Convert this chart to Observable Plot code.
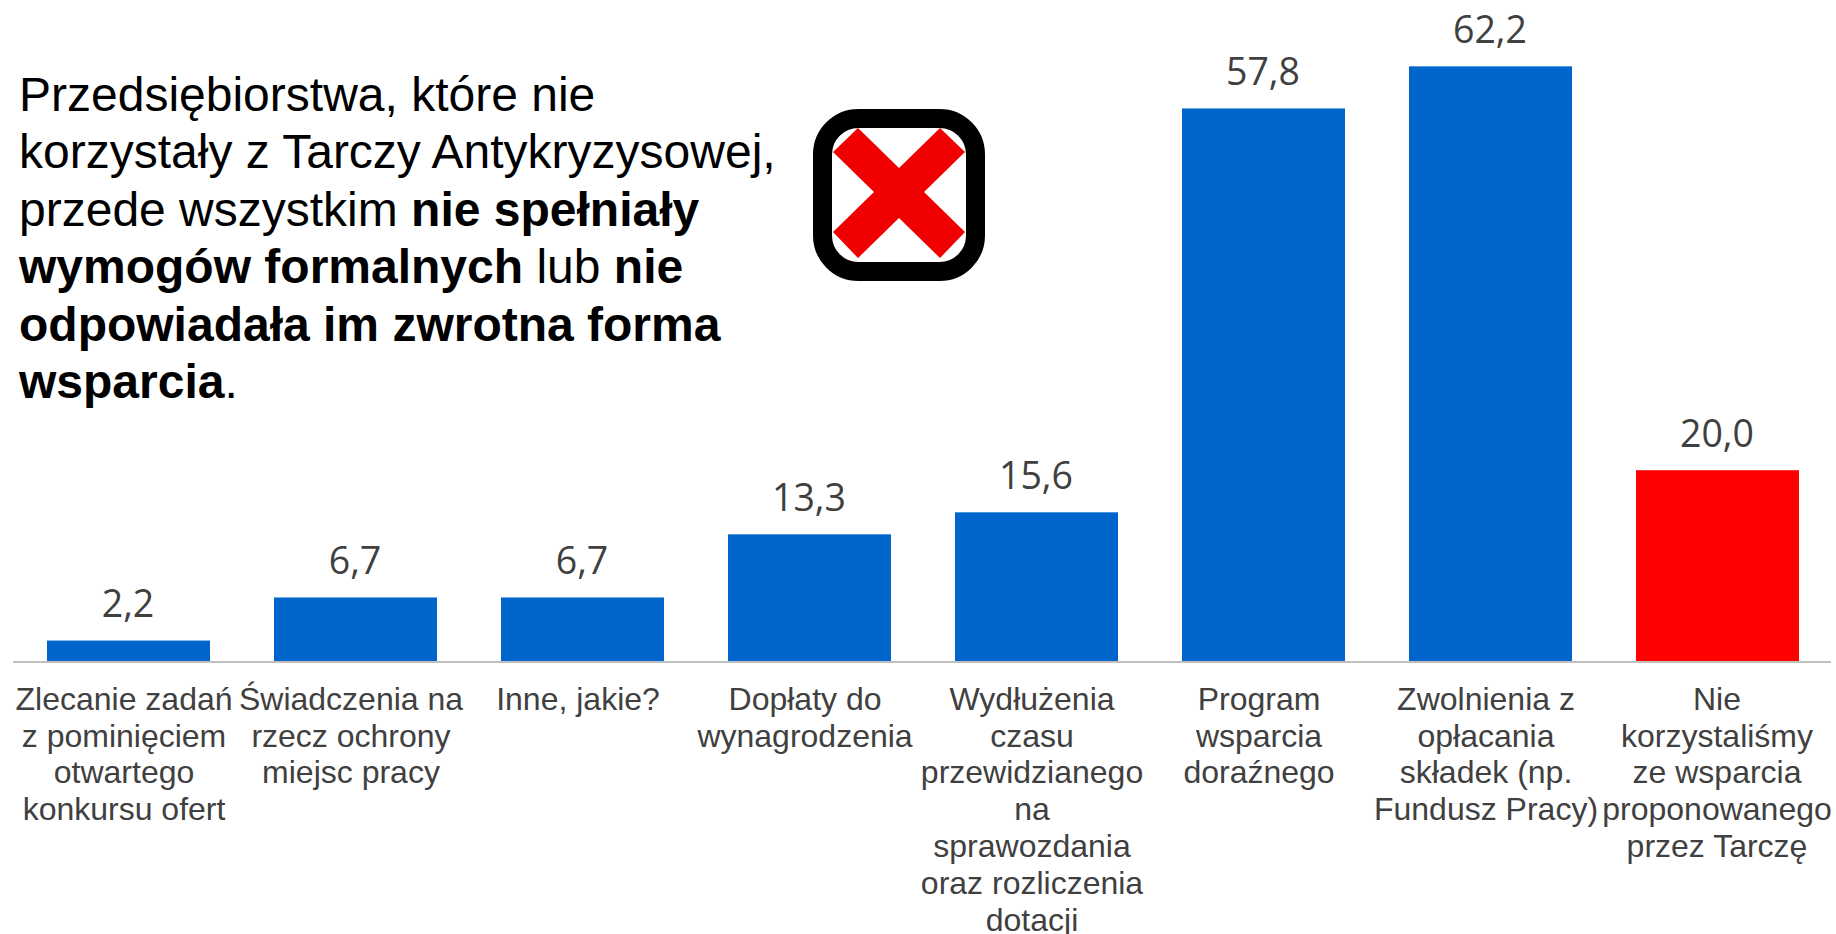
<!DOCTYPE html>
<html lang="pl">
<head>
<meta charset="utf-8">
<script src="https://cdn.jsdelivr.net/npm/d3@7"></script>
<script src="https://cdn.jsdelivr.net/npm/@observablehq/plot@0.6"></script>
<style>
html,body{margin:0;padding:0;background:#fff;overflow:hidden}
#wrap{position:relative;width:1836px;height:934px}
#chart svg{display:block}
#title{position:absolute;left:19px;top:65.5px;font:48px/57.5px "Liberation Sans",Arial,sans-serif;color:#000;white-space:nowrap}
#icon{position:absolute;left:813px;top:109px}
</style>
</head>
<body>
<div id="wrap">
<div id="chart"></div>
<div id="title">Przedsiębiorstwa, które nie<br>korzystały z Tarczy Antykryzysowej,<br>przede wszystkim <b>nie spełniały<br>wymogów formalnych</b> lub <b>nie<br>odpowiadała im zwrotna forma<br>wsparcia</b>.</div>
<svg id="icon" width="174" height="174" viewBox="0 0 174 174">
<rect x="9.5" y="9.5" width="153" height="153" rx="36" fill="#fff" stroke="#000" stroke-width="19"/>
<path d="M20 43 L45 19 L86 59 L127 19 L152 43 L111 83 L152 123 L127 149 L86 109 L45 149 L20 123 L61 83 Z" fill="#f00000"/>
</svg>
</div>
<script>
const categories = [
  "Zlecanie zadań\nz pominięciem\notwartego\nkonkursu ofert",
  "Świadczenia na\nrzecz ochrony\nmiejsc pracy",
  "Inne, jakie?",
  "Dopłaty do\nwynagrodzenia",
  "Wydłużenia\nczasu\nprzewidzianego\nna\nsprawozdania\noraz rozliczenia\ndotacji",
  "Program\nwsparcia\ndoraźnego",
  "Zwolnienia z\nopłacania\nskładek (np.\nFundusz Pracy)",
  "Nie\nkorzystaliśmy\nze wsparcia\nproponowanego\nprzez Tarczę"
];
const values = [2.2, 6.7, 6.7, 13.3, 15.6, 57.8, 62.2, 20.0];
const barColors = ["#0066cc","#0066cc","#0066cc","#0066cc","#0066cc","#0066cc","#0066cc","#ff0000"];

const rows = categories.map((c, i) => ({c, v: values[i], fill: barColors[i]}));
const fmt = v => v.toFixed(1).replace(".", ",");

const chart = Plot.plot({
  width: 1836,
  height: 934,
  marginTop: 0, marginBottom: 0, marginLeft: 0, marginRight: 0,
  style: {background: "#fff"},
  x: {domain: categories, range: [13.7, 1831.2], paddingInner: 0.283, paddingOuter: 0.1415, axis: null},
  y: {domain: [0, 70], range: [661.6, 661.6 - 70 * 9.57], axis: null},
  marks: [
    Plot.barY(rows, {x: "c", y: "v", fill: "fill"}),
    Plot.ruleY([0], {stroke: "#bfbfbf", strokeWidth: 2, insetLeft: 13, insetRight: 5}),
    Plot.text(rows, {x: "c", y: "v", text: d => fmt(d.v), dx: -1, dy: -36, fontSize: 37.5,
      fontFamily: "Open Sans", fill: "#404040", lineAnchor: "middle"}),
    Plot.text(rows.slice(0, 7), {x: "c", y: () => 0, text: "c", dx: -5, dy: 21.5, lineAnchor: "top",
      fontSize: 32, lineHeight: 1.15, fontFamily: "Liberation Sans", fill: "#404040"}),
    Plot.text(rows.slice(7), {x: "c", y: () => 0, text: "c", dx: -1, dy: 21.5, lineAnchor: "top",
      fontSize: 32, lineHeight: 1.15, fontFamily: "Liberation Sans", fill: "#404040"})
  ]
});
document.getElementById("chart").appendChild(chart);
</script>
</body>
</html>
